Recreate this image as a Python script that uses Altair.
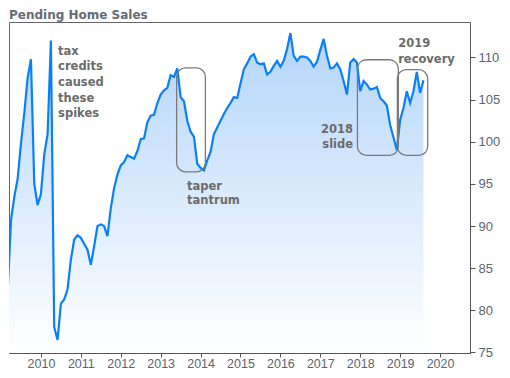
import altair as alt
import pandas as pd

title_text = "Pending Home Sales"

# Monthly pending home sales index, Feb 2009 .. Aug 2019
start_year, start_month = 2009, 2
index_values = [
    # 2009 (Feb-Dec)
    81.9, 82.3, 90.7, 93.5, 95.6, 99.8, 103.4, 107.6, 109.8, 95.0, 92.5,
    # 2010
    93.8, 98.5, 100.9, 112.0, 78.0, 76.5, 80.8, 81.3, 82.5, 86.0, 88.4, 88.9,
    # 2011
    88.6, 87.9, 87.2, 85.4, 87.6, 90.0, 90.2, 90.0, 88.8, 92.1, 94.5, 96.1,
    # 2012
    97.2, 97.6, 98.4, 98.2, 98.0, 98.9, 100.3, 100.4, 102.3, 103.1, 103.2, 104.6,
    # 2013
    105.6, 106.1, 106.4, 107.9, 107.7, 108.7, 105.3, 104.8, 102.5, 101.2, 100.6, 97.4,
    # 2014
    96.9, 96.6, 97.8, 98.8, 100.9, 101.7, 102.5, 103.3, 104.0, 104.6, 105.3, 105.2,
    # 2015
    106.9, 108.6, 109.3, 110.1, 110.4, 109.4, 109.2, 109.3, 108.0, 108.3, 109.0, 109.6,
    # 2016
    108.9, 109.6, 111.0, 112.9, 110.2, 109.6, 110.1, 110.1, 110.0, 109.6, 108.9, 109.5,
    # 2017
    110.9, 112.2, 110.2, 108.7, 108.8, 109.3, 108.6, 107.2, 105.6, 109.4, 109.8, 109.4,
    # 2018
    106.0, 107.2, 106.8, 106.2, 106.3, 106.5, 105.2, 104.8, 104.3, 102.0, 100.5, 99.0,
    # 2019 (Jan-Aug)
    102.6, 104.0, 106.0, 104.6, 106.0, 108.3, 105.8, 107.3,
]
x_ticks = list(range(2010, 2021))
y_ticks = [75, 80, 85, 90, 95, 100, 105, 110]
y_floor = 74.94
y_top = 114.21

# annotations (data coordinates: decimal year, index value)
note_left_text = ["tax", "credits", "caused", "these", "spikes",
                  "taper", "tantrum", "2019", "recovery"]
note_left_x = [2010.43] * 5 + [2013.66] * 2 + [2018.95] * 2
note_left_y = [110.31, 108.47, 106.6, 104.77, 102.94, 94.31, 92.56, 111.2, 109.33]

note_right_text = ["2018", "slide"]
note_right_x = [2017.82, 2017.82]
note_right_y = [101.07, 99.23]

box_x1 = [2013.40, 2017.93, 2018.93]
box_x2 = [2014.12, 2018.955, 2019.69]
box_y1 = [108.77, 109.73, 108.56]
box_y2 = [96.42, 98.38, 98.38]

# ---------------------------------------------------------------
t_vals = [start_year + (start_month - 1 + i) / 12 for i in range(len(index_values))]
df = pd.DataFrame({"t": t_vals, "v": index_values})
notes_l = pd.DataFrame({"t": note_left_x, "v": note_left_y, "label": note_left_text})
notes_r = pd.DataFrame({"t": note_right_x, "v": note_right_y, "label": note_right_text})
boxes = pd.DataFrame({"t": box_x1, "t2": box_x2, "v": box_y1, "v2": box_y2})

x_scale = alt.Scale(domain=[2009.2, 2020.75], nice=False, zero=False)
y_scale = alt.Scale(domain=[y_floor, y_top], nice=False, zero=False)

tick_color = "#555555"
label_color = "#5a6473"

x_enc = alt.X("t:Q", scale=x_scale, title=None,
              axis=alt.Axis(values=x_ticks, format="d", grid=False,
                            tickSize=4, labelPadding=0, domainColor=tick_color,
                            tickColor=tick_color, labelColor=label_color,
                            labelFont="Liberation Sans", labelFontSize=12.5,
                            labelFlush=False))
y_enc = alt.Y("v:Q", scale=y_scale, title=None,
              axis=alt.Axis(orient="right", values=y_ticks, grid=False,
                            tickSize=5, labelPadding=3, domainColor=tick_color,
                            tickColor=tick_color, labelColor=label_color,
                            labelFont="Liberation Sans", labelFontSize=13,
                            labelFlush=False))

area = alt.Chart(df).mark_area(
    clip=True,
    fill=alt.Gradient(
        gradient="linear",
        stops=[alt.GradientStop(color="#b3d5fa", offset=0),
               alt.GradientStop(color="#ffffff", offset=1)],
        x1=0, x2=0, y1=0, y2=1,
    ),
).encode(x=x_enc, y=y_enc, y2=alt.datum(y_floor))

line = alt.Chart(df).mark_line(
    clip=True, color="#0a80f8", strokeWidth=2.2
).encode(x="t:Q", y="v:Q")

rects = alt.Chart(boxes).mark_rect(
    cornerRadius=9, fillOpacity=0, stroke="#7a7a7a", strokeWidth=1.3
).encode(x="t:Q", x2="t2:Q", y="v:Q", y2="v2:Q")

text_l = alt.Chart(notes_l).mark_text(
    align="left", baseline="alphabetic", font="DejaVu Sans",
    fontSize=11.5, fontWeight="bold", color="#6b6b6b"
).encode(x="t:Q", y="v:Q", text="label:N")

text_r = alt.Chart(notes_r).mark_text(
    align="right", baseline="alphabetic", font="DejaVu Sans",
    fontSize=11.5, fontWeight="bold", color="#6b6b6b"
).encode(x="t:Q", y="v:Q", text="label:N")

chart = alt.layer(area, line, rects, text_l, text_r).properties(
    width=461,
    height=331,
    autosize="none",
    padding={"left": 1, "top": 14, "right": 32, "bottom": 17},
    title=alt.TitleParams(
        title_text, anchor="start", frame="group", offset=0,
        font="DejaVu Sans", fontSize=12, fontWeight="bold", color="#666b73",
    ),
).configure_view(stroke="#666666", strokeWidth=1)

chart.save("out.html", embed_options={"renderer": "svg", "actions": False})
